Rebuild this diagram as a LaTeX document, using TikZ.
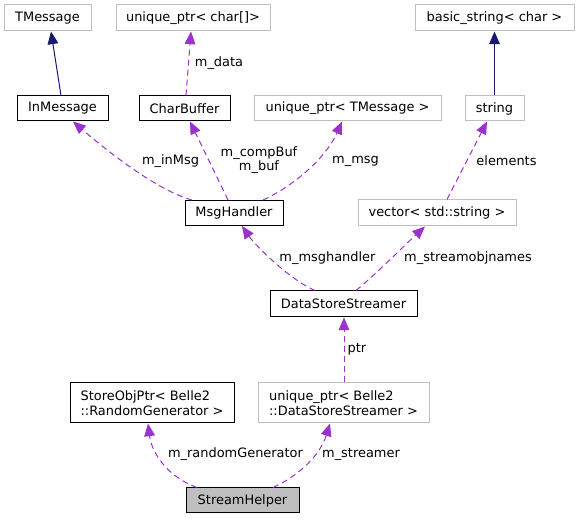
\documentclass[tikz,border=0pt]{standalone}
\usepackage{fontspec}
\setmainfont{DejaVu Sans}
\usetikzlibrary{calc,arrows.meta}
\tikzset{>={Triangle[length=9.5pt,width=8pt]}}
\definecolor{edgenavy}{HTML}{191970}
\definecolor{edgeuse}{HTML}{9A32CD}
\definecolor{boxgrey}{HTML}{BFBFBF}
\tikzset{
  cls/.style n args={2}{draw=black, line width=0.75pt, inner sep=2pt,
    minimum width=#1*0.75pt, minimum height=#2*0.75pt, align=left},
  ext/.style n args={2}{cls={#1}{#2}, draw=boxgrey},
  inh/.style={->, edgenavy, line width=0.75pt},
  use/.style={->, edgeuse, line width=0.75pt, dash pattern=on 4.5pt off 3pt},
  lbl/.style={inner sep=0pt, align=center}
}

\begin{document}
\begin{tikzpicture}[x=0.75pt, y=-0.75pt, font=\fontsize{9.7}{11}\selectfont]
  \useasboundingbox (0,0) rectangle (579,520);
  % classes
  \node[ext={87}{26}] (tmsg) at (47.5,18) {TMessage};
  \node[ext={154}{26}] (uchar) at (193,18) {unique\_ptr< char[]>};
  \node[ext={159}{26}] (bstr) at (494.5,18) {basic\_string< char >};
  \node[cls={91}{25}] (inmsg) at (62.5,108.5) {InMessage};
  \node[cls={91}{25}] (cbuf) at (184.5,108.5) {CharBuffer};
  \node[ext={187}{25}] (utmsg) at (347.5,108.5) {unique\_ptr< TMessage >};
  \node[ext={59}{25}] (str) at (494.5,108.5) {string};
  \node[cls={98}{25}] (mh) at (234,213) {MsgHandler};
  \node[ext={158}{26}] (vec) at (437,213) {vector< std::string >};
  \node[cls={147}{26}] (dss) at (343.5,304) {DataStoreStreamer};
  \node[cls={164}{40}] (sop) at (152,403) {StoreObjPtr< Belle2\\::RandomGenerator >};
  \node[ext={171}{40}] (udss) at (343.5,403) {unique\_ptr< Belle2\\::DataStoreStreamer >};
  \node[cls={113}{25}, fill=boxgrey] (sh) at (242.5,500.5) {StreamHelper};
  % inheritance
  \draw[inh] ($(inmsg.north)+(-1.5,0)$) -- ($(tmsg.south)+(3.5,0)$);
  \draw[inh] (str.north) -- (bstr.south);
  % members
  \draw[use] ($(cbuf.north)+(1.5,0)$) -- ($(uchar.south)+(-2,0)$);
  \draw[use] ($(mh.north)+(-42,0)$) .. controls (155,190) and (100,145) .. ($(inmsg.south)+(10.5,0)$);
  \draw[use] ($(mh.north)+(-6,0)$) -- ($(cbuf.south)+(5.5,0)$);
  \draw[use] ($(mh.north)+(29,0)$) .. controls (290,188) and (325,160) .. ($(utmsg.south)+(-5.5,0)$);
  \draw[use] ($(vec.north)+(10,0)$) .. controls (462,170) and (475,145) .. ($(str.south)+(-7.5,0)$);
  \draw[use] ($(dss.north)+(-28.5,0)$) .. controls (290,280) and (255,245) .. ($(mh.south)+(8,0)$);
  \draw[use] ($(dss.north)+(12.5,0)$) .. controls (375,275) and (405,245) .. ($(vec.south)+(-12,0)$);
  \draw[use] ($(udss.north)+(0.5,0)$) -- ($(dss.south)+(0.5,0)$);
  \draw[use] ($(sh.north)+(-45.5,0)$) .. controls (170,478) and (152,455) .. ($(sop.south)+(-4,0)$);
  \draw[use] ($(sh.north)+(30.5,0)$) .. controls (300,475) and (320,455) .. ($(udss.south)+(-13.5,0)$);
  % labels
  \node[lbl] (ldata) at (219,63) {m\_data};
  \node[lbl] (linmsg) at (170.5,161) {m\_inMsg};
  \node[lbl] (lbuf) at (259,160) {m\_compBuf\\m\_buf};
  \node[lbl] (lmsg) at (355.5,161) {m\_msg};
  \node[lbl] (lelem) at (506.5,161) {elements};
  \node[lbl] (lmh) at (327.5,258) {m\_msghandler};
  \node[lbl] (lnames) at (468,258) {m\_streamobjnames};
  \node[lbl] (lptr) at (357,349) {ptr};
  \node[lbl] (lrand) at (235.5,454) {m\_randomGenerator};
  \node[lbl] (lstream) at (361,454) {m\_streamer};
\end{tikzpicture}
\end{document}
